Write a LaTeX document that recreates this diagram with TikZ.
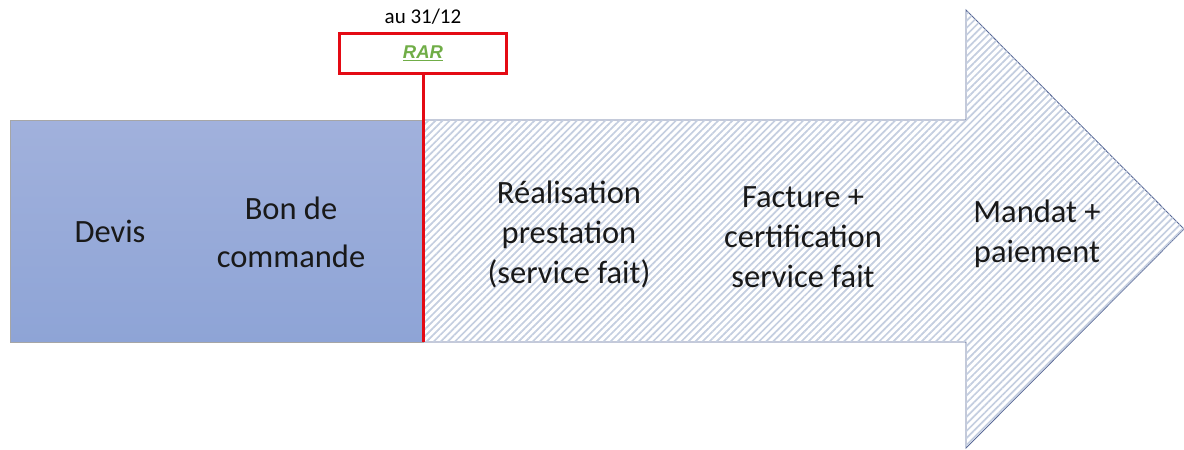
\documentclass[tikz,border=0pt]{standalone}
\usepackage{fontspec}
\setmainfont{Carlito}
\newfontfamily\arialfont{Liberation Sans}
\usetikzlibrary{patterns.meta}

\definecolor{bleuhaut}{RGB}{161,177,220}
\definecolor{bleubas}{RGB}{142,164,214}
\definecolor{contour}{RGB}{88,104,150}
\definecolor{hachure}{RGB}{196,206,224}
\definecolor{rouge}{RGB}{228,10,20}
\definecolor{vert}{RGB}{112,173,71}

\tikzset{
  etape/.style={align=center, text=black!90, font=\fontsize{32.5}{40}\selectfont},
}

\begin{document}
\begin{tikzpicture}[x=1pt,y=-1pt]
\useasboundingbox (0,0) rectangle (1184,450);

% grande fleche hachuree
\draw[contour, line width=0.9pt, fill=white] (423,120) -- (966,120) -- (966,10) -- (1184,229)
  -- (966,448) -- (966,342) -- (423,342) -- cycle;
\fill[pattern={Lines[angle=45,distance=5pt,line width=1.7pt]}, pattern color=hachure]
  (423,120) -- (966,120) -- (966,10) -- (1184,229) -- (966,448) -- (966,342) -- (423,342) -- cycle;

% bloc engage
\draw[gray!70, line width=0.8pt, top color=bleuhaut, bottom color=bleubas] (10,120) rectangle (423,342);

\node[etape] (devis) at (110,231) {Devis};
\node[etape, font=\fontsize{32.5}{48}\selectfont] (bon) at (291,232) {Bon de\\commande};
\node[etape] (realisation) at (569,234) {Réalisation\\prestation\\(service fait)};
\node[etape] (facture) at (803,237) {Facture +\\certification\\service fait};
\node[etape] (mandat) at (1037,234) {Mandat +\\paiement};

% reste a realiser
\node[draw=rouge, line width=2.2pt, minimum width=167pt, minimum height=40pt, inner sep=0pt,
  text=vert, font=\arialfont\bfseries\itshape\fontsize{18.5}{20}\selectfont] (rar) at (423,53.5) {\underline{RAR}};
\node[font=\fontsize{21}{24}\selectfont] (date) at (423,17) {au 31/12};
\coordinate (coupure) at (423,342);
\draw[rouge, line width=3pt] (rar.south) -- (coupure);
\end{tikzpicture}
\end{document}
